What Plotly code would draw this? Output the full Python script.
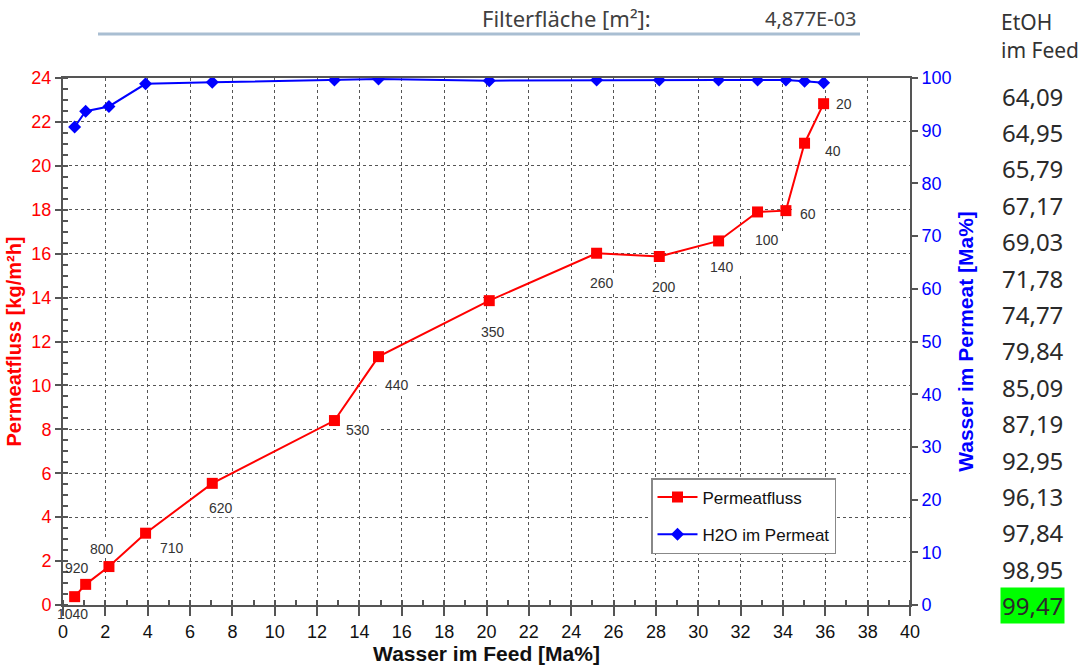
import plotly.graph_objects as go

# ---- data ----
wasser_feed = [0.55, 1.07, 2.17, 3.9, 7.05, 12.82, 14.9, 20.13, 25.2, 28.16, 30.96, 32.8, 34.14, 35.02, 35.92]
permeatfluss = [0.38, 0.94, 1.75, 3.27, 5.54, 8.4, 11.31, 13.86, 16.02, 15.87, 16.58, 17.9, 17.96, 21.03, 22.83]
h2o_permeat = [90.7, 93.7, 94.6, 98.9, 99.2, 99.6, 99.8, 99.5, 99.6, 99.6, 99.6, 99.6, 99.6, 99.4, 99.1]
point_labels = ["1040", "920", "800", "710", "620", "530", "440", "350", "260", "200", "140", "100", "60", "40", "20"]
etoh_feed = ["64,09", "64,95", "65,79", "67,17", "69,03", "71,78", "74,77", "79,84",
             "85,09", "87,19", "92,95", "96,13", "97,84", "98,95", "99,47"]
filterflaeche = "4,877E-03"

# label offsets in pixels (dx, dy-down)
label_offsets = [(-2, 17), (-9, -16), (-7, -18), (26, 15), (9, 25), (24, 9), (18, 28), (4, 31),
                 (5, 30), (5, 30), (3, 26), (9, 28), (22, 3), (28, 8), (20, 0)]

FONT = "Liberation Sans, Arial, sans-serif"
W, H = 1086, 671
L, R, T, B = 63, 176, 78, 66
PW, PH = W - L - R, H - T - B

def px(x):
    return (x - L) / PW

def py(y):
    return (H - B - y) / PH

fig = go.Figure()
fig.add_trace(go.Scatter(
    x=wasser_feed, y=permeatfluss, name="Permeatfluss", mode="lines+markers",
    line=dict(color="#ff0000", width=2), legendgroup="a",
    marker=dict(symbol="square", size=11, color="#ff0000"),
    yaxis="y"))
fig.add_trace(go.Scatter(
    x=wasser_feed, y=h2o_permeat, name="H2O im Permeat", mode="lines+markers",
    line=dict(color="#0000ff", width=2), legendgroup="b",
    marker=dict(symbol="diamond", size=10, color="#0000ff"),
    yaxis="y2"))

annotations = []
shapes = []
for xv, yv, lab, (dx, dy) in zip(wasser_feed, permeatfluss, point_labels, label_offsets):
    annotations.append(dict(x=xv, y=yv, xref="x", yref="y", text=lab, showarrow=False,
                            xshift=dx, yshift=-dy,
                            font=dict(family=FONT, size=14, color="#333333")))
    w = len(lab) * 8 + 16
    h = 18
    shapes.append(dict(type="rect", xref="x", yref="y", xsizemode="pixel", ysizemode="pixel",
                       xanchor=xv, yanchor=yv, x0=dx - w / 2, x1=dx + w / 2,
                       y0=-dy - h / 2, y1=-dy + h / 2, fillcolor="white",
                       line=dict(width=0), layer="between"))

HFONT = "Noto Sans, Open Sans, sans-serif"
annotations.append(dict(x=px(566), y=py(18), xref="paper", yref="paper", text="Filterfläche [m²]:",
                        showarrow=False, xanchor="center", yanchor="middle",
                        font=dict(family=HFONT, size=22, color="#404040")))
annotations.append(dict(x=px(859), y=py(18), xref="paper", yref="paper", text=filterflaeche,
                        showarrow=False, xanchor="right", yanchor="middle",
                        font=dict(family=HFONT, size=20, color="#404040")))
annotations.append(dict(x=px(999), y=py(22), xref="paper", yref="paper", text="EtOH",
                        showarrow=False, xanchor="left", yanchor="middle",
                        font=dict(family=HFONT, size=21, color="#333333")))
annotations.append(dict(x=px(999), y=py(50), xref="paper", yref="paper", text="im Feed",
                        showarrow=False, xanchor="left", yanchor="middle",
                        font=dict(family=HFONT, size=21, color="#333333")))
for i, v in enumerate(etoh_feed):
    last = i == len(etoh_feed) - 1
    annotations.append(dict(x=px(1000), y=py(96 + i * 36.4), xref="paper", yref="paper", text=v,
                            showarrow=False, xanchor="left", yanchor="middle",
                            bgcolor="#00ff00" if last else "rgba(0,0,0,0)", borderpad=1,
                            font=dict(family=HFONT, size=24, color="#2a2a2a")))

shapes.append(dict(type="line", xref="paper", yref="paper", x0=px(98), x1=px(860), y0=py(34), y1=py(34),
                   line=dict(color="#a9bed2", width=3)))

fig.update_layout(
    width=W, height=H, margin=dict(l=L, r=R, t=T, b=B, autoexpand=False),
    paper_bgcolor="white", plot_bgcolor="white",
    font=dict(family=FONT),
    showlegend=True,
    legend=dict(x=px(651), y=py(478), xanchor="left", yanchor="top",
                bordercolor="#888888", borderwidth=1.5, bgcolor="white",
                font=dict(family=FONT, size=17, color="#111111"),
                tracegroupgap=12, itemwidth=40),
    xaxis=dict(range=[0, 40], dtick=2, tick0=0, showgrid=True, automargin=False,
               gridcolor="#555555", griddash="dot", gridwidth=1,
               showline=True, linecolor="#555555", linewidth=2, mirror=True,
               ticks="outside", ticklen=9, tickcolor="#555555", tickwidth=1.5,
               minor=dict(dtick=1, ticks="inside", ticklen=5, tickcolor="#555555", showgrid=False),
               tickfont=dict(family=FONT, size=18, color="#111111"),
               title=dict(text="<b>Wasser im Feed [Ma%]</b>", font=dict(family=FONT, size=21, color="#111111"),
                          standoff=4),
               zeroline=False),
    yaxis=dict(range=[0, 24], dtick=2, showgrid=True, automargin=False,
               gridcolor="#555555", griddash="dot", gridwidth=1,
               showline=True, linecolor="#555555", linewidth=2, mirror=False,
               ticks="outside", ticklen=6, tickcolor="#555555", tickwidth=1.5,
               minor=dict(dtick=0.5, ticks="inside", ticklen=5, tickcolor="#555555", showgrid=False),
               tickfont=dict(family=FONT, size=18, color="#ff0000"),
               title=dict(text="<b>Permeatfluss [kg/m²h]</b>", font=dict(family=FONT, size=20, color="#ff0000"),
                          standoff=4),
               zeroline=False),
    yaxis2=dict(range=[0, 100], dtick=10, overlaying="y", side="right", showgrid=False, automargin=False,
                showline=True, linecolor="#555555", linewidth=2,
                ticks="outside", ticklen=6, tickcolor="#555555", tickwidth=1.5,
                tickfont=dict(family=FONT, size=18, color="#0000ff"),
                title=dict(text="<b>Wasser im Permeat [Ma%]</b>", font=dict(family=FONT, size=21, color="#0000ff"),
                           standoff=8),
                zeroline=False),
    annotations=annotations,
    shapes=shapes,
)

fig.write_html("out.html")
